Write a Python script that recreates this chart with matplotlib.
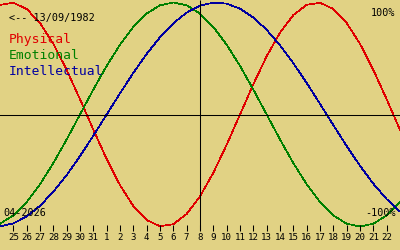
import matplotlib
matplotlib.use("Agg")
import matplotlib.pyplot as plt

BIRTH = "13/09/1982"
MONTH = "04-2026"

# 31 days shown, 24 March .. 23 April; today is the 8th (index 15)
days = [24, 25, 26, 27, 28, 29, 30, 31, 1, 2, 3, 4, 5, 6, 7, 8,
        9, 10, 11, 12, 13, 14, 15, 16, 17, 18, 19, 20, 21, 22, 23]
today = 15

# values in %, one per day
physical = [97.9, 99.8, 94.2, 81.7, 63.1, 39.8, 13.6, -13.6, -39.8, -63.1,
            -81.7, -94.2, -99.8, -97.9, -88.8, -73.1, -52.0, -27.0, 0.0, 27.0,
            52.0, 73.1, 88.8, 97.9, 99.8, 94.2, 81.7, 63.1, 39.8, 13.6, -13.6]
emotional = [-97.5, -90.1, -78.2, -62.3, -43.4, -22.3, 0.0, 22.3, 43.4, 62.3,
             78.2, 90.1, 97.5, 100.0, 97.5, 90.1, 78.2, 62.3, 43.4, 22.3,
             0.0, -22.3, -43.4, -62.3, -78.2, -90.1, -97.5, -100.0, -97.5, -90.1, -78.2]
intellectual = [-99.9, -97.2, -91.0, -81.5, -69.0, -54.1, -37.2, -18.9, 0.0, 18.9,
                37.2, 54.1, 69.0, 81.5, 91.0, 97.2, 99.9, 99.0, 94.5, 86.6,
                75.6, 61.8, 45.8, 28.2, 9.5, -9.5, -28.2, -45.8, -61.8, -75.6, -86.6]

names = ["Physical", "Emotional", "Intellectual"]
colors = ["#e00000", "#008000", "#0000a0"]
BG = "#e1d284"
MONO = "DejaVu Sans Mono"

W, H = 400, 250
MID, AMP = 114.5, 1.12   # pixel row of 0 %, pixels per %


def yv(py):
    # pixel row -> value in %
    return (MID - py) / AMP


fig = plt.figure(figsize=(W / 100, H / 100), dpi=100, facecolor=BG)
ax = fig.add_axes([0, 0, 1, 1], facecolor=BG)
ax.set_xlim(0, len(days) - 1)
ax.set_ylim(yv(H), yv(0))
ax.axis("off")

x = list(range(len(days)))
for vals, c in zip([physical, emotional, intellectual], colors):
    ax.plot(x, vals, color=c, lw=0.5, antialiased=False)

# axes cross
ax.axhline(0, color="black", lw=0.75)
ax.vlines(today, yv(230), yv(0), color="black", lw=0.75)

# day ticks
ax.vlines(x[1:-1], yv(230.5), yv(224.5), color="black", lw=0.75)
for xi, d in zip(x[1:-1], days[1:-1]):
    ax.text(xi, yv(238), str(d), ha="center", va="center",
            fontsize=6.6, family=MONO)


def px(xp, yp):
    return xp / W, 1 - yp / H


fig.text(*px(9, 20.5), "<-- " + BIRTH, fontsize=7.3, family=MONO, va="baseline")
for i, (n, c) in enumerate(zip(names, colors)):
    fig.text(*px(9, 42.5 + 16.2 * i), n, color=c, fontsize=9.4, family=MONO,
             va="baseline")
fig.text(*px(395, 16), "100%", fontsize=7.3, family=MONO, ha="right", va="baseline")
fig.text(*px(396, 215.5), "-100%", fontsize=7.3, family=MONO, ha="right", va="baseline")
fig.text(*px(3, 215.5), MONTH, fontsize=7.3, family=MONO, va="baseline")

fig.savefig("out.png", dpi=100, facecolor=BG)
